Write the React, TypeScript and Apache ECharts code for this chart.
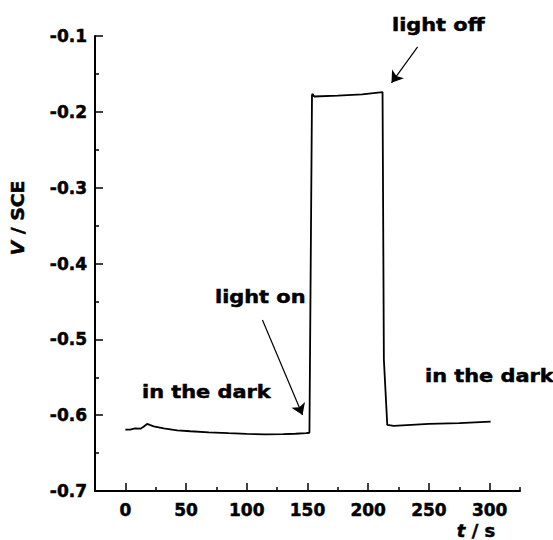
import React, { useEffect, useRef } from "react";
import * as echarts from "echarts";

// time (s) and potential (V vs SCE)
const timeS = [0, 4, 8, 12.4, 15, 17.9, 23.3, 31.6, 42.6, 53.6, 68.7, 85, 100, 115, 130, 140, 149, 151.6, 153.7, 154.2, 155.5, 175, 195, 211.8, 212.9, 215.7, 221, 250, 275, 300.8];
const potentialV = [-0.619, -0.6191, -0.6173, -0.6178, -0.6152, -0.6116, -0.6147, -0.6173, -0.62, -0.6212, -0.6226, -0.6238, -0.6248, -0.6252, -0.625, -0.6245, -0.6238, -0.6232, -0.178, -0.1763, -0.1798, -0.1785, -0.177, -0.174, -0.527, -0.6129, -0.614, -0.6115, -0.6105, -0.6086];

const xMajorTicks = [0, 50, 100, 150, 200, 250, 300];
const xMinorTicks = [25, 75, 125, 175, 225, 275, 325];
const yTicks = [-0.7, -0.6, -0.5, -0.4, -0.3, -0.2, -0.1];

// annotation arrows: [start t, start V, end t, end V]
const arrowLightOn = [112.9, -0.4744, 145.9, -0.5997];
const arrowLightOff = [240.7, -0.1143, 219.2, -0.1617];

const FONT = "DejaVu Sans";
const HEAVY = { textBorderColor: "#000", textBorderWidth: 0.5 };

export default function App() {
  const ref = useRef<HTMLDivElement>(null);
  useEffect(() => {
    if (!ref.current) return;
    const chart = echarts.init(ref.current, undefined, { renderer: "svg" });
    const data = timeS.map((t, i) => [t, potentialV[i]]);
    const labelStyle = { fontFamily: FONT, fontWeight: "bold", fontSize: 17, color: "#000", ...HEAVY };
    const annot = (text: string, x: number, y: number) => ({
      type: "text",
      x,
      y,
      scaleX: 1.16,
      style: { text, fontFamily: FONT, fontWeight: "bold", fontSize: 18, fill: "#000", stroke: "#000", lineWidth: 0.5, align: "left", verticalAlign: "middle" },
    });
    chart.setOption({
      animation: false,
      backgroundColor: "#fff",
      grid: { left: 95, right: 33, top: 36, bottom: 49 },
      xAxis: [
        {
          type: "value",
          min: -25,
          max: 325,
          interval: 25,
          position: "bottom",
          axisLine: { show: true, onZero: false, lineStyle: { color: "#000", width: 2 } },
          axisTick: { show: true, inside: true, length: 8, customValues: xMajorTicks, lineStyle: { color: "#000", width: 1.5 } },
          axisLabel: { ...labelStyle, margin: 10, customValues: xMajorTicks },
          splitLine: { show: false },
        },
        {
          type: "value",
          min: -25,
          max: 325,
          interval: 25,
          position: "bottom",
          axisLine: { show: false, onZero: false },
          axisTick: { show: true, inside: true, length: 4, customValues: xMinorTicks, lineStyle: { color: "#000", width: 1.5 } },
          axisLabel: { show: false },
          splitLine: { show: false },
        },
      ],
      yAxis: {
        type: "value",
        min: -0.7,
        max: -0.1,
        interval: 0.1,
        axisLine: { show: true, onZero: false, lineStyle: { color: "#000", width: 2 } },
        axisTick: { show: true, inside: true, length: 8, lineStyle: { color: "#000", width: 1.5 } },
        minorTick: { show: true, splitNumber: 2, length: 4, lineStyle: { color: "#000", width: 1.5 } },
        axisLabel: { ...labelStyle, margin: 8, customValues: yTicks, formatter: (v: number) => v.toFixed(1) },
        splitLine: { show: false },
      },
      series: [
        {
          type: "line",
          xAxisIndex: 0,
          data,
          showSymbol: false,
          lineStyle: { color: "#000", width: 1.8 },
          markLine: {
            silent: true,
            symbol: ["none", "arrow"],
            symbolSize: 11,
            label: { show: false },
            itemStyle: { color: "#000" },
            lineStyle: { color: "#000", width: 1.2, type: "solid" },
            emphasis: { disabled: true },
            data: [
              [{ coord: [arrowLightOn[0], arrowLightOn[1]] }, { coord: [arrowLightOn[2], arrowLightOn[3]] }],
              [{ coord: [arrowLightOff[0], arrowLightOff[1]] }, { coord: [arrowLightOff[2], arrowLightOff[3]] }],
            ],
          },
        },
      ],
      graphic: [
        annot("light off", 392, 25),
        annot("light on", 215, 297),
        annot("in the dark", 142, 392),
        annot("in the dark", 425, 376),
        {
          type: "text",
          x: 18,
          y: 218,
          rotation: Math.PI / 2,
          scaleX: 1.05,
          style: {
            text: "{i|V} / SCE",
            fontFamily: FONT,
            fontWeight: "bold",
            fontSize: 18,
            fill: "#000",
            stroke: "#000",
            lineWidth: 0.5,
            align: "center",
            verticalAlign: "middle",
            rich: { i: { fontFamily: FONT, fontWeight: "bold", fontStyle: "italic", fontSize: 18, fill: "#000", stroke: "#000", lineWidth: 0.5 } },
          },
        },
        {
          type: "text",
          x: 476,
          y: 530,
          style: {
            text: "{i|t} / s",
            fontFamily: FONT,
            fontWeight: "bold",
            fontSize: 18,
            fill: "#000",
            stroke: "#000",
            lineWidth: 0.5,
            align: "center",
            verticalAlign: "middle",
            rich: { i: { fontFamily: FONT, fontWeight: "bold", fontStyle: "italic", fontSize: 18, fill: "#000", stroke: "#000", lineWidth: 0.5 } },
          },
        },
      ],
    });
    return () => chart.dispose();
  }, []);
  return <div ref={ref} style={{ position: "absolute", left: 0, top: 0, width: 553, height: 540 }} />;
}
